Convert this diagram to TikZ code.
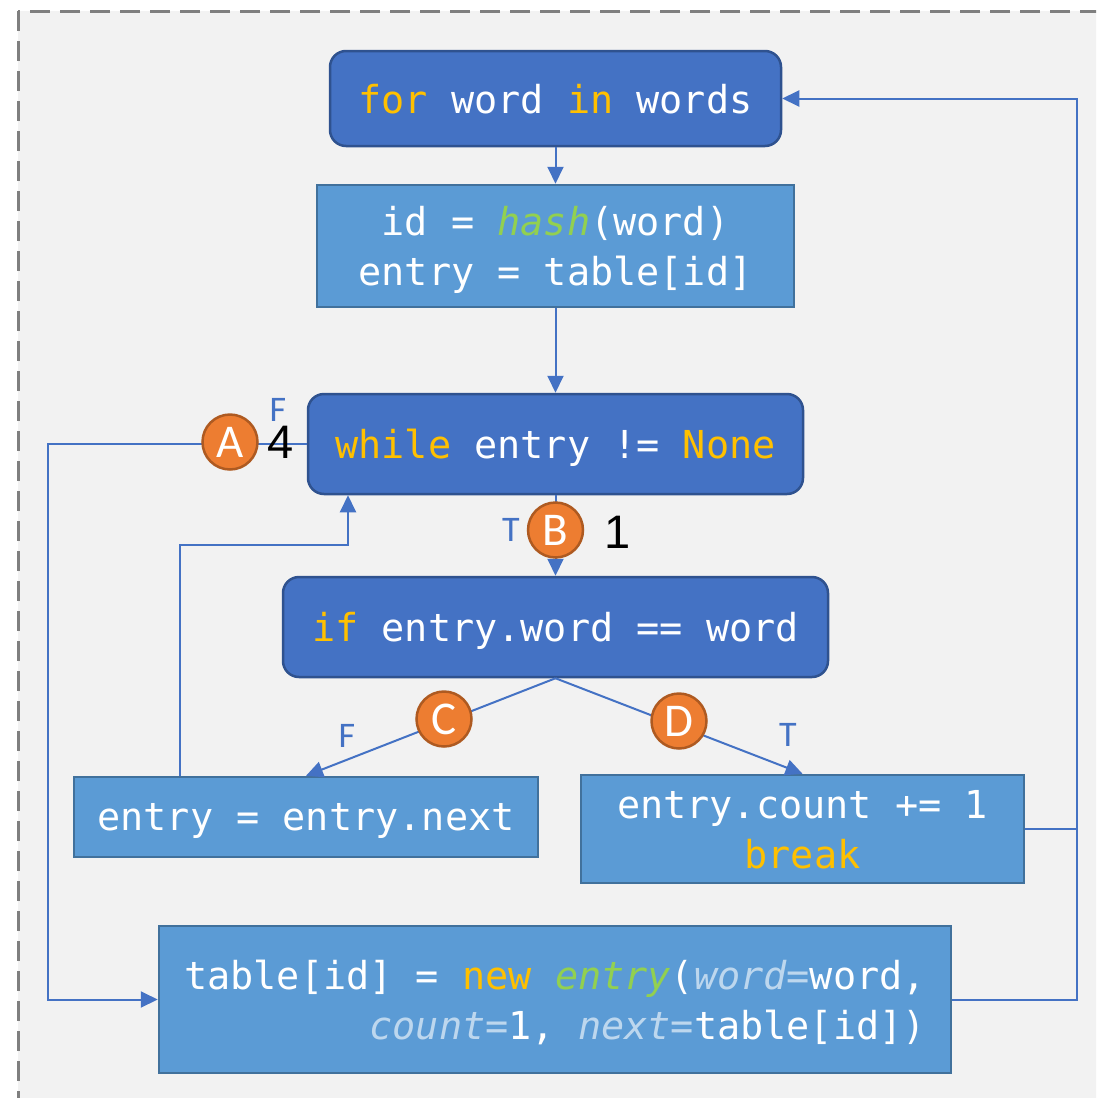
\documentclass[tikz,border=0pt]{standalone}
\usepackage{fontspec}
\usetikzlibrary{arrows.meta}
\newfontfamily\codefont{DejaVu Sans Mono}
\newfontfamily\lblfont{Carlito}
\newfontfamily\numfont{Liberation Sans}
\definecolor{bgc}{HTML}{F2F2F2}
\definecolor{dashc}{HTML}{7F7F7F}
\definecolor{dkfill}{HTML}{4472C4}
\definecolor{dkborder}{HTML}{2F528F}
\definecolor{ltfill}{HTML}{5B9BD5}
\definecolor{ltborder}{HTML}{41719C}
\definecolor{kwc}{HTML}{FFC000}
\definecolor{fnc}{HTML}{92D050}
\definecolor{prc}{HTML}{BDD7EE}
\definecolor{linec}{HTML}{4472C4}
\definecolor{orc}{HTML}{ED7D31}
\definecolor{orb}{HTML}{AE5A21}
\newcommand{\kwd}[1]{\textcolor{kwc}{#1}}
\newcommand{\fnm}[1]{\textcolor{fnc}{\itshape #1}}
\newcommand{\prm}[1]{\textcolor{prc}{\itshape #1}}
\begin{document}
\begin{tikzpicture}[x=1pt,y=-1pt,
  codebox/.style={draw, line width=2.5pt, text=white, font=\codefont\fontsize{38.5}{50}\selectfont, inner sep=0pt, text depth=0pt},
  darkbox/.style={codebox, fill=dkfill, draw=dkborder, rounded corners=16pt},
  lightbox/.style={codebox, fill=ltfill, draw=ltborder},
  conn/.style={draw=linec, line width=2pt, -{Triangle[length=17pt,width=16pt]}},
  plain/.style={draw=linec, line width=2pt},
  circ/.style={circle, fill=orc, draw=orb, line width=2.5pt, minimum size=55pt, inner sep=0pt, text=white, font=\lblfont\fontsize{47}{50}\selectfont},
  lbl/.style={font=\lblfont\fontsize{36}{40}\selectfont, text=linec, inner sep=0pt},
  num/.style={font=\numfont\fontsize{47}{50}\selectfont, text=black, inner sep=0pt}]
\useasboundingbox (0,0) rectangle (1096,1098);
\begin{scope}
\clip (0,0) rectangle (1096,1098);
\draw[fill=bgc, draw=dashc, line width=3pt, dash pattern=on 20pt off 10pt] (18,11) rectangle (1140,1140);
\end{scope}

\node[darkbox, minimum width=451pt, minimum height=95pt] (for) at (555.5,98.5) {\kwd{for} word \kwd{in} words};
\node[lightbox, minimum width=477pt, minimum height=122pt, align=center] (hash) at (555.5,246) {id = \fnm{hash}(word)\\entry = table[id]};
\node[darkbox, minimum width=495pt, minimum height=100pt] (while) at (555.5,444) {\kwd{while} entry != \kwd{None}};
\node[darkbox, minimum width=545pt, minimum height=100pt] (if) at (555.5,627) {\kwd{if} entry.word == word};
\node[lightbox, minimum width=464pt, minimum height=80pt] (next) at (306,817) {entry = entry.next};
\node[lightbox, minimum width=443pt, minimum height=108pt, align=center] (count) at (802.5,829) {entry.count += 1\\\kwd{break}};
\node[lightbox, minimum width=792pt, minimum height=147pt, align=right] (new) at (555,999.5) {table[id] = \kwd{new} \fnm{entry}(\prm{word=}word,\\\prm{count=}1, \prm{next=}table[id])};

\coordinate (loopc) at (348,545);
\coordinate (lft) at (48,444);
\coordinate (rgt) at (1077,829);

\draw[conn] (for) -- (hash);
\draw[conn] (hash) -- (while);
\draw[conn] (while) -- (if);
\draw[conn] (if.south) -- (next.north);
\draw[conn] (if.south) -- (count.north);
\draw[conn] ([xshift=-126pt]next.north) |- (loopc) -- (loopc |- while.south);
\draw[conn] (while.west) -- (lft) |- (new.west);
\draw[plain] (count.east) -- (rgt);
\draw[conn] (new.east) -| (rgt) |- (for.east);

\node[circ] (cA) at (230,442) {A};
\node[circ] (cB) at (555.5,530) {B};
\node[circ] (cC) at (444,719) {C};
\node[circ] (cD) at (679,721) {D};

\node[lbl] (fA) at (278,410) {F};
\node[num] (n4) at (281,442) {4};
\node[lbl] (tB) at (511,530) {T};
\node[num] (n1) at (618,532) {1};
\node[lbl] (fC) at (347,736) {F};
\node[lbl] (tD) at (788,735) {T};
\end{tikzpicture}
\end{document}
